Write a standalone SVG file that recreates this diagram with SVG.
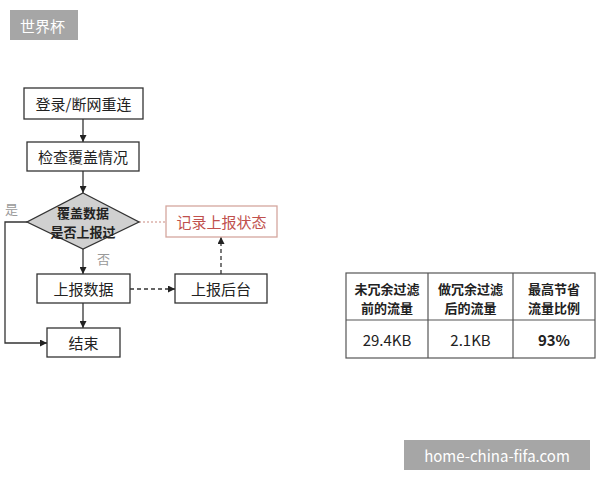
<svg xmlns="http://www.w3.org/2000/svg" width="600" height="480" viewBox="0 0 600 480">
<style>
.box{fill:#fff;stroke:#333;stroke-width:1.3}
.t{font-family:"Noto Sans CJK SC","Liberation Sans",sans-serif;font-size:15px;fill:#222;text-anchor:middle;dominant-baseline:central}
.b{font-weight:bold}
.s{font-size:13px}
.ln{fill:none;stroke:#333;stroke-width:1.3}
.dash{fill:none;stroke:#333;stroke-width:1.3;stroke-dasharray:4 3}
.lbl{font-family:"Noto Sans CJK SC","Liberation Sans",sans-serif;font-size:13px;fill:#999;dominant-baseline:central}
.tag{fill:#a6a6a6}
.tagt{font-family:"Noto Sans CJK SC","Liberation Sans",sans-serif;font-size:15px;fill:#fff;dominant-baseline:central}
.cell{fill:#fff;stroke:#555;stroke-width:1.2}
</style>
<defs>
<marker id="ar" viewBox="0 0 10 10" refX="10" refY="5" markerWidth="7" markerHeight="7" orient="auto" markerUnits="userSpaceOnUse">
<path d="M0,0 L10,5 L0,10 z" fill="#222"/>
</marker>
</defs>
<rect width="600" height="480" fill="#fff"/>
<g id="title-tag">
<rect class="tag" x="10" y="10" width="68" height="30"/>
<text class="tagt" x="20" y="25">世界杯</text>
</g>
<g id="connectors">
<line class="ln" x1="83" y1="119" x2="83" y2="142" marker-end="url(#ar)"/>
<line class="ln" x1="83" y1="171" x2="83" y2="193" marker-end="url(#ar)"/>
<line class="ln" x1="83" y1="249" x2="83" y2="274" marker-end="url(#ar)"/>
<line class="ln" x1="83" y1="303" x2="83" y2="328" marker-end="url(#ar)"/>
<polyline class="ln" points="27,222 5,222 5,343 47,343" marker-end="url(#ar)"/>
<line class="dash" x1="130" y1="289" x2="175" y2="289" marker-end="url(#ar)"/>
<line class="dash" x1="221" y1="274" x2="221" y2="237" marker-end="url(#ar)"/>
<line x1="139" y1="222" x2="166" y2="222" stroke="#c98a80" stroke-width="1.2" stroke-dasharray="2 2"/>
<text class="lbl" x="5" y="208">是</text>
<text class="lbl" x="97" y="258">否</text>
</g>
<g id="n-login">
<rect class="box" x="24" y="88" width="119" height="31"/>
<text class="t" x="83.5" y="103.5">登录/断网重连</text>
</g>
<g id="n-check">
<rect class="box" x="27" y="142" width="112" height="29"/>
<text class="t" x="83" y="156.5">检查覆盖情况</text>
</g>
<g id="n-decision">
<polygon points="83,193 139,222 83,249 27,222" fill="#d0d0d0" stroke="#333" stroke-width="1.3"/>
<text class="t b s" x="83" y="212">覆盖数据</text>
<text class="t b s" x="83" y="231">是否上报过</text>
</g>
<g id="n-record">
<rect x="166" y="206" width="111" height="31" fill="#fff" stroke="#d4a79e" stroke-width="1.3"/>
<text class="t" x="221.5" y="221.5" style="fill:#c0504d">记录上报状态</text>
</g>
<g id="n-upload">
<rect class="box" x="37" y="274" width="93" height="29"/>
<text class="t" x="83.5" y="288.5">上报数据</text>
</g>
<g id="n-backend">
<rect class="box" x="175" y="274" width="92" height="29"/>
<text class="t" x="221" y="288.5">上报后台</text>
</g>
<g id="n-end">
<rect class="box" x="47" y="328" width="73" height="29"/>
<text class="t" x="83.5" y="342.5">结束</text>
</g>
<g id="table">
<rect class="cell" x="346" y="273" width="249" height="85"/>
<line x1="428" y1="273" x2="428" y2="358" stroke="#555" stroke-width="1.2"/>
<line x1="513" y1="273" x2="513" y2="358" stroke="#555" stroke-width="1.2"/>
<line x1="346" y1="320" x2="595" y2="320" stroke="#555" stroke-width="1.2"/>
<text class="t b s" x="387" y="288">未冗余过滤</text>
<text class="t b s" x="387" y="307">前的流量</text>
<text class="t b s" x="470.5" y="288">做冗余过滤</text>
<text class="t b s" x="470.5" y="307">后的流量</text>
<text class="t b s" x="554" y="288">最高节省</text>
<text class="t b s" x="554" y="307">流量比例</text>
<text class="t" x="387" y="339">29.4KB</text>
<text class="t" x="470.5" y="339">2.1KB</text>
<text class="t b" x="554" y="339">93%</text>
</g>
<g id="watermark">
<rect class="tag" x="404" y="440" width="186" height="30"/>
<text class="tagt" x="497" y="455" text-anchor="middle">home-china-fifa.com</text>
</g>
</svg>
